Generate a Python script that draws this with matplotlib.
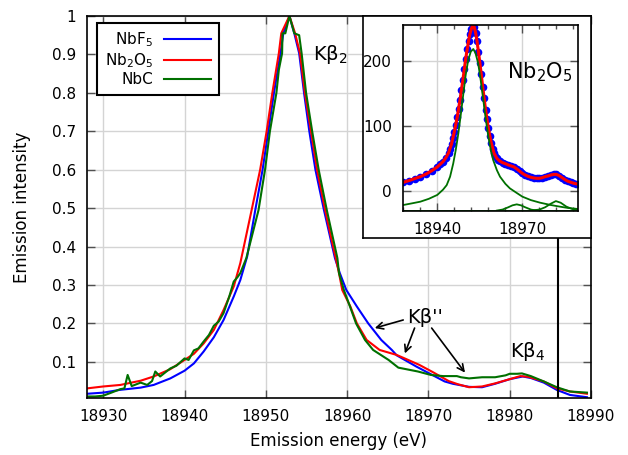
import matplotlib
matplotlib.use('Agg')
import matplotlib.pyplot as plt
from matplotlib.ticker import MultipleLocator, FixedLocator, FormatStrFormatter

# ---- main plot data (normalised emission) ----
nbf5_e = [18928, 18930, 18932, 18934.6, 18936.2, 18938.25, 18940, 18941.15, 18942.35,
          18943.6, 18944.8, 18946.05, 18946.86, 18947.7, 18948.7, 18949.6, 18950.3,
          18951.0, 18951.8, 18952.15, 18952.9, 18953.5, 18954.1, 18954.7, 18955.35,
          18956.1, 18957.15, 18958.5, 18959.1, 18959.9, 18961.2, 18962.6, 18964.2,
          18965.5, 18966.1, 18968.5, 18970.2, 18972, 18973, 18974, 18975, 18976.6,
          18978.2, 18980, 18981.6, 18982.6, 18984.2, 18985.8, 18987.4, 18989.5]
nbf5_v = [0.017, 0.020, 0.027, 0.033, 0.040, 0.057, 0.077, 0.096, 0.127,
          0.164, 0.209, 0.270, 0.313, 0.374, 0.495, 0.600, 0.700,
          0.800, 0.903, 0.955, 1.000, 0.955, 0.903, 0.800, 0.700,
          0.600, 0.495, 0.370, 0.331, 0.287, 0.244, 0.200, 0.157,
          0.131, 0.117, 0.088, 0.069, 0.049, 0.043, 0.039, 0.035, 0.034,
          0.043, 0.055, 0.062, 0.058, 0.046, 0.027, 0.014, 0.008]

nb2o5_e = [18928, 18930, 18932.1, 18934.6, 18936.2, 18938.25, 18940, 18941.15, 18942.35,
           18943.6, 18944.8, 18946.05, 18946.86, 18948.25, 18949.3, 18950.1, 18950.8,
           18951.6, 18951.9, 18952.9, 18953.6, 18954.2, 18954.8, 18955.55, 18956.3,
           18957.3, 18958.1, 18958.6, 18959.0, 18959.4, 18960.4, 18961.2, 18962.4,
           18964, 18966.1, 18967.3, 18968.9, 18970.4, 18972.5, 18973.6, 18975, 18976.6,
           18978.2, 18980, 18981.3, 18982.3, 18984.2, 18985.8, 18987.4, 18989.5]
nb2o5_v = [0.031, 0.036, 0.040, 0.051, 0.062, 0.081, 0.105, 0.121, 0.148,
           0.183, 0.235, 0.296, 0.357, 0.495, 0.600, 0.700, 0.800,
           0.903, 0.955, 1.000, 0.955, 0.903, 0.800, 0.700, 0.600,
           0.495, 0.417, 0.370, 0.331, 0.287, 0.244, 0.200, 0.157,
           0.131, 0.118, 0.107, 0.092, 0.075, 0.050, 0.042, 0.034, 0.036,
           0.044, 0.055, 0.063, 0.061, 0.049, 0.031, 0.023, 0.017]

nbc_e = [18928, 18929, 18930, 18931, 18932.1, 18932.6, 18933, 18933.5, 18934.6, 18935.4,
         18936, 18936.4, 18937, 18938.25, 18939, 18940, 18940.5, 18941.15, 18941.7,
         18942.35, 18943, 18943.6, 18944.2, 18944.8, 18945.5, 18946.05, 18946.5,
         18946.86, 18947.6, 18949.1, 18949.9, 18950.5, 18951.3, 18951.6, 18952.0,
         18952.05, 18952.4, 18952.9, 18953.5, 18954.1, 18954.4, 18954.95, 18955.7,
         18956.5, 18957.5, 18958.8, 18959.0, 18959.6, 18960.35, 18961.1, 18962.2,
         18963.2, 18965.1, 18966.3, 18968.7, 18970.3, 18971.8, 18973.5, 18974, 18975,
         18976.6, 18978.2, 18979.5, 18980, 18980.9, 18981.5, 18982.6, 18984.2,
         18985.8, 18987.4, 18989.5]
nbc_v = [0.010, 0.010, 0.012, 0.020, 0.029, 0.031, 0.066, 0.037, 0.046, 0.040,
         0.050, 0.075, 0.062, 0.083, 0.090, 0.109, 0.105, 0.130, 0.135,
         0.153, 0.170, 0.194, 0.205, 0.227, 0.270, 0.309, 0.320,
         0.331, 0.370, 0.495, 0.600, 0.700, 0.800, 0.860, 0.903,
         0.955, 0.955, 1.000, 0.955, 0.950, 0.903, 0.800, 0.700,
         0.600, 0.495, 0.370, 0.331, 0.287, 0.244, 0.200, 0.157,
         0.131, 0.105, 0.085, 0.075, 0.066, 0.063, 0.063, 0.060, 0.057,
         0.060, 0.060, 0.065, 0.069, 0.069, 0.070, 0.063, 0.049,
         0.034, 0.023, 0.020]

kb_line_e = 18986

# ---- inset data (Nb2O5 raw counts + fit) ----
data_e = [18928, 18930, 18932, 18934, 18936, 18938, 18940, 18941, 18942, 18943,
          18944, 18944.5, 18945, 18945.5, 18946, 18946.5, 18947, 18947.5, 18948,
          18948.5, 18949, 18949.5, 18950, 18950.5, 18951, 18951.5, 18952, 18952.5,
          18953, 18953.5, 18954, 18954.5, 18955, 18955.5, 18956, 18956.5, 18957,
          18957.5, 18958, 18958.5, 18959, 18959.5, 18960, 18960.5, 18961, 18961.5,
          18962, 18963, 18964, 18965, 18966, 18967, 18968, 18969, 18970, 18971,
          18972, 18973, 18974, 18975, 18976, 18977, 18978, 18979, 18980, 18981,
          18982, 18983, 18984, 18985, 18986, 18987, 18988, 18989, 18989.5]
data_v = [13.3, 16, 19, 22, 26, 31, 37, 41, 45, 51,
          59, 65, 72, 81, 91, 101, 113, 126, 140,
          155, 170, 187, 203, 218, 230, 241, 249, 254,
          252, 243, 230, 214, 197, 179, 160, 142, 125,
          110, 96, 84, 74, 65, 58, 53, 50, 48,
          46, 43.5, 42, 40, 38.5, 37, 34, 30.5, 27, 24.5,
          22.5, 21, 20, 19.5, 19.5, 20.5, 22, 23, 24.5, 25.5,
          25.5, 23.5, 20.5, 17.5, 15, 13.5, 12, 11, 10.7]

fit_e = [18928, 18930, 18932, 18934, 18936, 18938, 18940, 18941, 18942, 18943,
         18944, 18945, 18946, 18947, 18948, 18949, 18950, 18951, 18951.5, 18952,
         18952.5, 18953, 18953.5, 18954, 18955, 18956, 18957, 18958, 18959, 18960,
         18961, 18962, 18963, 18964, 18965, 18966, 18967, 18968, 18969, 18970,
         18971, 18972, 18973, 18974, 18975, 18976, 18977, 18978, 18979, 18980,
         18981, 18982, 18983, 18984, 18985, 18986, 18987, 18988, 18989, 18989.5]
fit_v = [13.3, 16, 19, 22, 26, 31, 37, 41, 45, 51,
         59, 72, 91, 113, 140, 170, 203, 230, 241, 249,
         254, 252, 243, 230, 197, 160, 125, 96, 74, 58,
         50, 46, 43.5, 42, 40, 38.5, 37, 34, 30.5, 27,
         24.5, 22.5, 21, 20, 19.5, 19.5, 20.5, 22, 23, 24.5,
         25.5, 25.5, 23.5, 20.5, 17.5, 15, 13.5, 12, 11, 10.7]

main_comp_e = [18928, 18931, 18934, 18937, 18940, 18942, 18943.3, 18944.5, 18945.6,
               18946.5, 18947.4, 18948.3, 18949.2, 18950, 18950.9, 18951.8, 18952.7,
               18953.5, 18954.4, 18955.3, 18956.2, 18957.1, 18958, 18959, 18959.7,
               18961, 18962.1, 18964, 18965.6, 18968, 18970, 18973, 18976.2, 18980,
               18983.2, 18986, 18989.6]
main_comp_v = [-21.5, -19, -16.4, -12, -6, 2, 9, 22, 42,
               63, 88, 118, 150, 178, 201, 214, 218,
               211, 196, 170, 140, 110, 83, 60, 47.5,
               32, 22, 11, 4, -3, -8.7, -14, -17.9, -21.5,
               -24, -26, -27.6]
comp1_e = [18961, 18963, 18965, 18966.5, 18968, 18969.5, 18971, 18973, 18975]
comp1_v = [-30, -28.5, -25, -22, -20.5, -22, -25, -28.5, -30]
comp2_e = [18973, 18976, 18978, 18980, 18981.8, 18983.5, 18985.5, 18987.5, 18990]
comp2_v = [-30, -28.5, -25, -19.5, -15.5, -18, -24, -27.5, -29.5]
base_e = [18928, 18990]
base_v = [-30.3, -30.3]

inset_xticks = [18940, 18970]
inset_xminor = [18928, 18934, 18946, 18952, 18958, 18964, 18976, 18982, 18988]

blue = '#0000ff'
red = '#ff0000'
green = '#007000'
gridc = '#d4d4d4'

plt.rcParams['font.family'] = 'DejaVu Sans'
plt.rcParams['mathtext.fontset'] = 'dejavusans'

fig = plt.figure(figsize=(6.28, 4.55), dpi=100)
ax = fig.add_axes([87/628, 57/455, 504/628, 382/455])

ax.plot(nbf5_e, nbf5_v, color=blue, lw=1.5, label='NbF$_5$')
ax.plot(nb2o5_e, nb2o5_v, color=red, lw=1.5, label='Nb$_2$O$_5$')
ax.plot(nbc_e, nbc_v, color=green, lw=1.5, label='NbC')
ax.axvline(kb_line_e, color='k', lw=1.5)

ax.set_xlim(18928, 18990)
ax.set_ylim(0.006, 1.0)
ax.xaxis.set_major_locator(MultipleLocator(10))
ax.set_yticks([0.1, 0.2, 0.3, 0.4, 0.5, 0.6, 0.7, 0.8, 0.9, 1.0])
ax.yaxis.set_major_formatter(FormatStrFormatter('%g'))
ax.grid(True, color=gridc, lw=1)
ax.set_axisbelow(True)
ax.tick_params(direction='in', length=6, width=1, color='#505050', top=True, right=True,
               labelsize=11, pad=8)
for s in ax.spines.values():
    s.set_linewidth(1.2)
ax.set_xlabel('Emission energy (eV)', fontsize=12, labelpad=6)
ax.set_ylabel('Emission intensity', fontsize=12, labelpad=15)

leg = ax.legend(loc='upper left', bbox_to_anchor=(0.0198, 0.982), borderaxespad=0,
                markerfirst=False, fontsize=11, handlelength=3.1, labelspacing=0.15,
                fancybox=False, framealpha=1, edgecolor='k', borderpad=0.5,
                handletextpad=0.7)
leg.get_frame().set_linewidth(1.5)

ax.text(18955.8, 0.885, 'Kβ$_2$', fontsize=14)
ax.text(18967.4, 0.202, "Kβ''", fontsize=14)
ax.text(18980.0, 0.112, 'Kβ$_4$', fontsize=14)
arr = dict(arrowstyle='->', color='k', lw=1.2, shrinkA=0, shrinkB=0, mutation_scale=12)
ax.annotate('', xy=(18963.4, 0.188), xytext=(18966.9, 0.209), arrowprops=arr)
ax.annotate('', xy=(18967.1, 0.122), xytext=(18968.3, 0.188), arrowprops=arr)
ax.annotate('', xy=(18974.5, 0.072), xytext=(18970.4, 0.188), arrowprops=arr)

# inset frame + inset plot
frame = fig.add_axes([363/628, 217/455, 228/628, 222/455])
frame.set_xticks([])
frame.set_yticks([])
frame.set_facecolor('white')
for s in frame.spines.values():
    s.set_linewidth(1.2)

ins = fig.add_axes([403/628, 244/455, 175/628, 186/455])
ins.plot(data_e, data_v, 'o', color=blue, ms=5.5, mew=0)
ins.plot(fit_e, fit_v, color=red, lw=2.2)
ins.plot(main_comp_e, main_comp_v, color=green, lw=1.3)
ins.plot(comp1_e, comp1_v, color=green, lw=1.3)
ins.plot(comp2_e, comp2_v, color=green, lw=1.3)
ins.plot(base_e, base_v, color=green, lw=1.3)
ins.set_xlim(18927.9, 18989.6)
ins.set_ylim(-30.7, 254.8)
ins.xaxis.set_major_locator(FixedLocator(inset_xticks))
ins.xaxis.set_minor_locator(FixedLocator(inset_xminor))
ins.set_yticks([0, 100, 200])
ins.grid(True, which='major', color=gridc, lw=1)
ins.set_axisbelow(True)
ins.tick_params(which='major', direction='in', length=6, width=1, color='#505050',
                top=True, right=True, labelsize=11, pad=8)
ins.tick_params(which='minor', direction='in', length=3, width=1, color='#505050',
                top=True, right=True)
for s in ins.spines.values():
    s.set_linewidth(1.2)
ins.text(18964.5, 173, 'Nb$_2$O$_5$', fontsize=15)

fig.savefig('out.png', dpi=100)
